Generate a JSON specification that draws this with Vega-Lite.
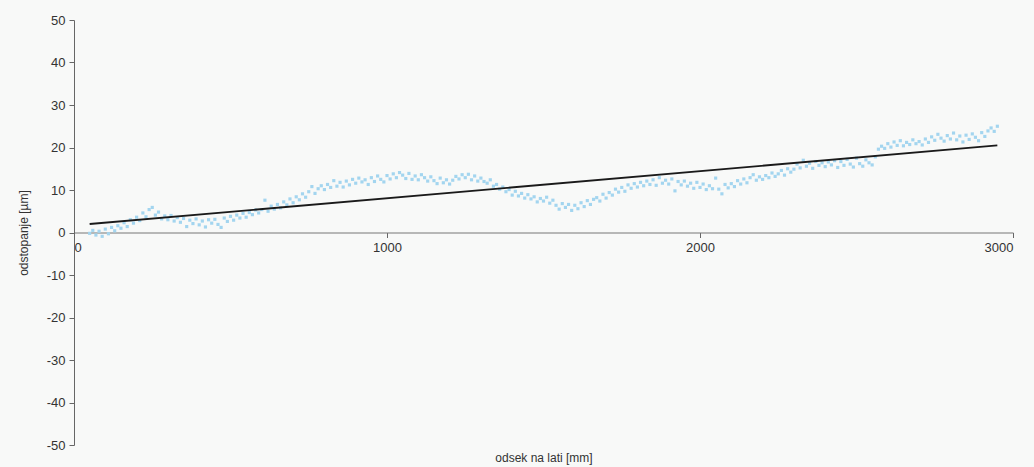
{
  "$schema": "https://vega.github.io/schema/vega-lite/v6.json",
  "width": 939,
  "height": 425,
  "autosize": "none",
  "padding": {"left": 74, "top": 20, "right": 21, "bottom": 22},
  "background": "#f8f9f8",
  "config": {
    "view": {"stroke": null},
    "font": "Liberation Sans",
    "axis": {"labelFont": "Liberation Sans", "titleFont": "Liberation Sans", "labelFontSize": 13, "titleFontSize": 12, "labelColor": "#333333", "titleColor": "#333333", "titleFontWeight": "normal", "domainColor": "#666666", "tickColor": "#666666", "grid": false}
  },
  "layer": [
    {
      "data": {"values": [
        {"x":50,"y":-0.2},{"x":60,"y":0.5},{"x":70,"y":-0.6},{"x":80,"y":0.3},{"x":90,"y":-0.9},
        {"x":100,"y":0.8},{"x":110,"y":-0.3},{"x":120,"y":1.2},{"x":130,"y":0.4},{"x":140,"y":1.6},
        {"x":150,"y":1.0},{"x":160,"y":2.3},{"x":170,"y":1.4},{"x":180,"y":3.0},{"x":190,"y":2.2},
        {"x":200,"y":3.6},{"x":210,"y":2.8},{"x":220,"y":4.6},{"x":230,"y":3.7},{"x":240,"y":5.4},
        {"x":250,"y":5.9},{"x":260,"y":4.1},{"x":270,"y":4.8},{"x":280,"y":3.2},{"x":290,"y":3.9},
        {"x":300,"y":3.0},{"x":310,"y":4.0},{"x":320,"y":2.7},{"x":330,"y":3.5},{"x":340,"y":2.4},
        {"x":350,"y":3.3},{"x":360,"y":1.4},{"x":370,"y":2.9},{"x":380,"y":2.1},{"x":390,"y":3.2},
        {"x":400,"y":1.8},{"x":410,"y":2.7},{"x":420,"y":1.3},{"x":430,"y":3.0},{"x":440,"y":2.2},
        {"x":450,"y":3.1},{"x":460,"y":1.9},{"x":470,"y":1.2},{"x":480,"y":3.4},{"x":490,"y":2.6},
        {"x":500,"y":3.8},{"x":510,"y":2.9},{"x":520,"y":4.1},{"x":530,"y":3.4},{"x":540,"y":4.5},
        {"x":550,"y":3.6},{"x":560,"y":4.7},{"x":570,"y":4.2},{"x":580,"y":5.3},{"x":590,"y":4.6},
        {"x":600,"y":5.4},{"x":610,"y":7.6},{"x":620,"y":5.0},{"x":630,"y":6.2},{"x":640,"y":5.5},
        {"x":650,"y":6.6},{"x":660,"y":5.8},{"x":670,"y":7.2},{"x":680,"y":6.5},{"x":690,"y":7.9},
        {"x":700,"y":7.0},{"x":710,"y":8.4},{"x":720,"y":7.7},{"x":730,"y":9.1},{"x":740,"y":8.3},
        {"x":750,"y":9.6},{"x":760,"y":10.8},{"x":770,"y":9.2},{"x":780,"y":10.3},{"x":790,"y":11.0},
        {"x":800,"y":10.1},{"x":810,"y":11.3},{"x":820,"y":10.6},{"x":830,"y":12.2},{"x":840,"y":10.9},
        {"x":850,"y":11.8},{"x":860,"y":10.7},{"x":870,"y":12.1},{"x":880,"y":11.2},{"x":890,"y":12.5},
        {"x":900,"y":11.6},{"x":910,"y":12.8},{"x":920,"y":11.9},{"x":930,"y":12.4},{"x":940,"y":11.3},
        {"x":950,"y":12.9},{"x":960,"y":12.0},{"x":970,"y":13.3},{"x":980,"y":12.5},{"x":990,"y":11.9},
        {"x":1000,"y":13.4},{"x":1010,"y":12.6},{"x":1020,"y":13.8},{"x":1030,"y":12.9},{"x":1040,"y":14.1},
        {"x":1050,"y":13.5},{"x":1060,"y":12.7},{"x":1070,"y":13.9},{"x":1080,"y":12.5},{"x":1090,"y":13.3},
        {"x":1100,"y":12.4},{"x":1110,"y":13.6},{"x":1120,"y":12.9},{"x":1130,"y":12.1},{"x":1140,"y":13.1},
        {"x":1150,"y":12.2},{"x":1160,"y":11.5},{"x":1170,"y":12.8},{"x":1180,"y":11.7},{"x":1190,"y":12.4},
        {"x":1200,"y":11.4},{"x":1210,"y":12.3},{"x":1220,"y":13.2},{"x":1230,"y":12.6},{"x":1240,"y":13.6},
        {"x":1250,"y":12.9},{"x":1260,"y":13.7},{"x":1270,"y":12.4},{"x":1280,"y":13.3},{"x":1290,"y":12.1},
        {"x":1300,"y":12.8},{"x":1310,"y":12.0},{"x":1320,"y":11.6},{"x":1330,"y":12.4},{"x":1340,"y":10.9},
        {"x":1350,"y":11.3},{"x":1360,"y":10.2},{"x":1370,"y":10.7},{"x":1380,"y":9.6},{"x":1390,"y":10.1},
        {"x":1400,"y":8.8},{"x":1410,"y":9.7},{"x":1420,"y":8.6},{"x":1430,"y":9.2},{"x":1440,"y":8.1},
        {"x":1450,"y":8.9},{"x":1460,"y":7.9},{"x":1470,"y":8.4},{"x":1480,"y":7.2},{"x":1490,"y":8.0},
        {"x":1500,"y":7.4},{"x":1510,"y":8.3},{"x":1520,"y":6.9},{"x":1530,"y":7.6},{"x":1540,"y":6.4},
        {"x":1550,"y":5.5},{"x":1560,"y":6.8},{"x":1570,"y":5.9},{"x":1580,"y":6.6},{"x":1590,"y":5.2},
        {"x":1600,"y":6.4},{"x":1610,"y":5.6},{"x":1620,"y":7.0},{"x":1630,"y":6.1},{"x":1640,"y":7.5},
        {"x":1650,"y":6.6},{"x":1660,"y":7.8},{"x":1670,"y":8.2},{"x":1680,"y":7.4},{"x":1690,"y":9.0},
        {"x":1700,"y":8.1},{"x":1710,"y":9.4},{"x":1720,"y":8.8},{"x":1730,"y":10.2},{"x":1740,"y":9.5},
        {"x":1750,"y":10.6},{"x":1760,"y":9.7},{"x":1770,"y":11.2},{"x":1780,"y":10.4},{"x":1790,"y":11.5},
        {"x":1800,"y":10.7},{"x":1810,"y":11.8},{"x":1820,"y":11.0},{"x":1830,"y":12.1},{"x":1840,"y":11.3},
        {"x":1850,"y":12.4},{"x":1860,"y":11.1},{"x":1870,"y":12.9},{"x":1880,"y":11.6},{"x":1890,"y":12.3},
        {"x":1900,"y":11.4},{"x":1910,"y":12.6},{"x":1920,"y":9.8},{"x":1930,"y":12.0},{"x":1940,"y":11.2},
        {"x":1950,"y":12.1},{"x":1960,"y":10.9},{"x":1970,"y":11.6},{"x":1980,"y":10.4},{"x":1990,"y":11.8},
        {"x":2000,"y":10.6},{"x":2010,"y":11.4},{"x":2020,"y":10.1},{"x":2030,"y":11.0},{"x":2040,"y":10.3},
        {"x":2050,"y":12.8},{"x":2060,"y":10.2},{"x":2070,"y":9.1},{"x":2080,"y":11.3},{"x":2090,"y":10.5},
        {"x":2100,"y":11.5},{"x":2110,"y":10.8},{"x":2120,"y":12.2},{"x":2130,"y":11.4},{"x":2140,"y":12.6},
        {"x":2150,"y":11.7},{"x":2160,"y":12.9},{"x":2170,"y":13.6},{"x":2180,"y":12.3},{"x":2190,"y":13.1},
        {"x":2200,"y":12.5},{"x":2210,"y":13.4},{"x":2220,"y":12.9},{"x":2230,"y":14.0},{"x":2240,"y":13.2},
        {"x":2250,"y":13.8},{"x":2260,"y":14.6},{"x":2270,"y":13.5},{"x":2280,"y":15.0},{"x":2290,"y":14.2},
        {"x":2300,"y":14.9},{"x":2310,"y":16.1},{"x":2320,"y":15.2},{"x":2330,"y":17.0},{"x":2340,"y":15.6},
        {"x":2350,"y":16.3},{"x":2360,"y":15.1},{"x":2370,"y":16.7},{"x":2380,"y":15.8},{"x":2390,"y":16.4},
        {"x":2400,"y":15.5},{"x":2410,"y":16.6},{"x":2420,"y":15.9},{"x":2430,"y":16.9},{"x":2440,"y":15.3},
        {"x":2450,"y":16.7},{"x":2460,"y":15.8},{"x":2470,"y":17.2},{"x":2480,"y":16.1},{"x":2490,"y":15.4},
        {"x":2500,"y":17.5},{"x":2510,"y":16.2},{"x":2520,"y":15.6},{"x":2530,"y":17.1},{"x":2540,"y":16.4},
        {"x":2550,"y":15.9},{"x":2560,"y":17.8},{"x":2570,"y":19.6},{"x":2580,"y":20.3},{"x":2590,"y":19.8},
        {"x":2600,"y":20.9},{"x":2610,"y":20.1},{"x":2620,"y":21.3},{"x":2630,"y":20.5},{"x":2640,"y":21.6},
        {"x":2650,"y":20.4},{"x":2660,"y":21.2},{"x":2670,"y":20.7},{"x":2680,"y":21.8},{"x":2690,"y":20.9},
        {"x":2700,"y":21.4},{"x":2710,"y":20.6},{"x":2720,"y":22.0},{"x":2730,"y":21.2},{"x":2740,"y":22.5},
        {"x":2750,"y":21.7},{"x":2760,"y":23.1},{"x":2770,"y":22.2},{"x":2780,"y":21.5},{"x":2790,"y":22.8},
        {"x":2800,"y":22.0},{"x":2810,"y":23.4},{"x":2820,"y":21.8},{"x":2830,"y":22.7},{"x":2840,"y":21.3},
        {"x":2850,"y":22.9},{"x":2860,"y":21.9},{"x":2870,"y":23.2},{"x":2880,"y":22.4},{"x":2890,"y":21.6},
        {"x":2900,"y":23.5},{"x":2910,"y":22.6},{"x":2920,"y":23.9},{"x":2930,"y":24.6},{"x":2940,"y":23.8},{"x":2950,"y":25.0}
      ]},
      "mark": {"type": "square", "size": 10, "color": "#a3d5ef", "opacity": 1},
      "encoding": {
        "x": {"field": "x", "type": "quantitative", "scale": {"domain": [0, 3000], "nice": false},
          "axis": {"values": [0, 1000, 2000, 3000], "labelExpr": "'' + datum.value", "offset": -212.5, "tickSize": 5, "labelPadding": 4, "title": "odsek na lati [mm]", "titleY": 225, "titleBaseline": "middle", "domainColor": "#777777"}},
        "y": {"field": "y", "type": "quantitative", "scale": {"domain": [-50, 50], "nice": false},
          "axis": {"values": [-50, -40, -30, -20, -10, 0, 10, 20, 30, 40, 50], "labelExpr": "'' + datum.value", "tickSize": 5, "labelPadding": 4, "title": "odstopanje [µm]", "titlePadding": 16}}
      }
    },
    {
      "data": {"values": [{"x": 50, "y": 2.0}, {"x": 2950, "y": 20.5}]},
      "mark": {"type": "line", "color": "#1a1a1a", "strokeWidth": 1.8},
      "encoding": {
        "x": {"field": "x", "type": "quantitative"},
        "y": {"field": "y", "type": "quantitative"}
      }
    }
  ]
}
